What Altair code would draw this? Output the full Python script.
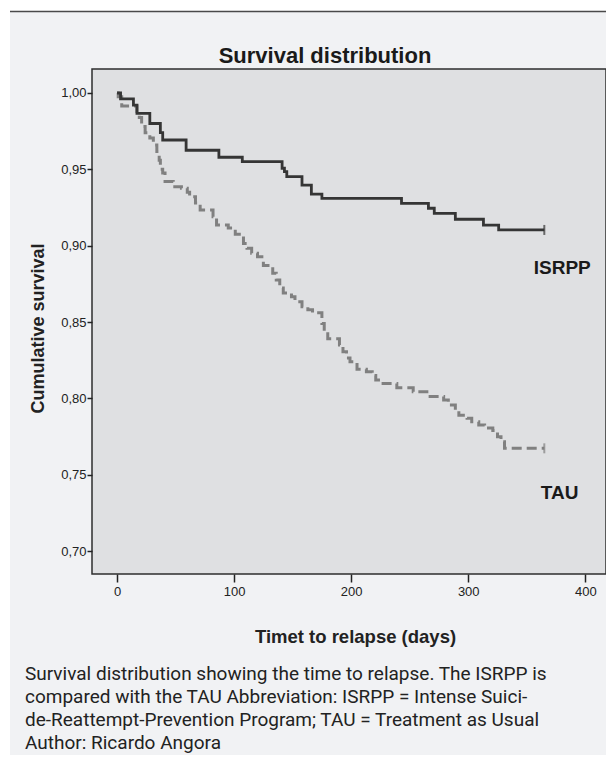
import altair as alt
import pandas as pd

# ---- data ----
isrpp_days = [0, 3, 14, 17, 28, 37, 39, 59, 87, 107, 141, 143, 145, 158, 166, 175, 243, 266, 271, 289, 313, 326, 365]
isrpp_surv = [1.0, 0.9962, 0.9921, 0.9867, 0.9800, 0.9740, 0.9692, 0.9625, 0.9579, 0.9550, 0.9507, 0.9485, 0.9452,
              0.9397, 0.9338, 0.9310, 0.9277, 0.9245, 0.9212, 0.9173, 0.9135, 0.9103, 0.9103]

tau_days = [0, 1, 4, 17, 19, 21, 24, 28, 31, 34, 36, 37, 39, 41, 48, 55, 60, 62, 67, 71, 82, 85, 95, 101, 108,
            111, 115, 120, 125, 133, 136, 139, 142, 149, 152, 158, 163, 167, 175, 177, 180, 190, 193, 196, 199,
            205, 213, 218, 221, 226, 239, 253, 266, 279, 283, 289, 292, 299, 303, 309, 314, 321, 325, 328, 331, 365]
tau_surv = [1.0, 0.9976, 0.9915, 0.9878, 0.9840, 0.9780, 0.9740, 0.9705, 0.9660, 0.9616, 0.9560, 0.9500, 0.9476,
            0.9420, 0.9386, 0.9376, 0.9350, 0.9320, 0.9280, 0.9234, 0.9190, 0.9135, 0.9116, 0.9075, 0.9015,
            0.8983, 0.8950, 0.8928, 0.8870, 0.8820, 0.8775, 0.8723, 0.8690, 0.8666, 0.8633, 0.8600, 0.8580,
            0.8560, 0.8490, 0.8437, 0.8390, 0.8350, 0.8305, 0.8264, 0.8240, 0.8190, 0.8175, 0.8150, 0.8120,
            0.8098, 0.8070, 0.8044, 0.8013, 0.7989, 0.7956, 0.7924, 0.7890, 0.7870, 0.7847, 0.7825, 0.7806,
            0.7790, 0.7749, 0.7716, 0.7673, 0.7673]

series_labels = ["ISRPP", "TAU"]
label_days = [356, 362]
label_surv = [0.8854, 0.7378]

x_ticks = [0, 100, 200, 300, 400]
y_ticks = [0.70, 0.75, 0.80, 0.85, 0.90, 0.95, 1.00]

chart_title = "Survival distribution"
x_title = "Timet to relapse (days)"
y_title = "Cumulative survival"
caption_lines = [
    "Survival distribution showing the time to relapse. The ISRPP is",
    "compared with the TAU Abbreviation: ISRPP = Intense Suici-",
    "de-Reattempt-Prevention Program; TAU = Treatment as Usual",
    "Author: Ricardo Angora",
]

# ---- layout ----
W, H = 514, 505
L, T, R, B = 84, 61, 0, 181
FONT = "Liberation Sans"
CAP_FONT = "Roboto"

isrpp = pd.DataFrame({"days": isrpp_days, "surv": isrpp_surv})
tau = pd.DataFrame({"days": tau_days, "surv": tau_surv})
ends = pd.DataFrame({"days": [isrpp_days[-1], tau_days[-1]], "surv": [isrpp_surv[-1], tau_surv[-1]],
                     "grp": series_labels})
labels = pd.DataFrame({"days": label_days, "surv": label_surv, "txt": series_labels})
one = pd.DataFrame({"a": [0]})

xs = alt.Scale(domain=[-21.4, 417.7], nice=False, zero=False)
ys = alt.Scale(domain=[0.685, 1.0157], nice=False, zero=False)

x_axis = alt.Axis(values=x_ticks, title=x_title, grid=False, domain=False, tickSize=8, tickWidth=1.5,
                  tickColor="#222", labelFont=FONT, labelFontSize=13, labelColor="#222", labelPadding=3,
                  titleFont=FONT, titleFontSize=18.5, titleFontWeight="bold", titleColor="#222",
                  titleBaseline="middle", titleY=62, titleX=263)
y_axis = alt.Axis(values=y_ticks, title=y_title, grid=False, domain=False, tickSize=5, tickWidth=1.5,
                  tickColor="#222", labelFont=FONT, labelFontSize=13, labelColor="#222", labelPadding=1,
                  labelExpr="replace(format(datum.value, '.2f'), '.', ',')",
                  titleFont=FONT, titleFontSize=18, titleFontWeight="bold", titleColor="#222",
                  titleAngle=270, titleBaseline="middle", titleAlign="center", titleX=-54, titleY=259)

tau_line = alt.Chart(tau).mark_line(interpolate="step-after", color="#808080", strokeWidth=3,
                                    strokeDash=[10, 5]).encode(
    x=alt.X("days:Q", scale=xs, axis=x_axis), y=alt.Y("surv:Q", scale=ys, axis=y_axis))
isrpp_line = alt.Chart(isrpp).mark_line(interpolate="step-after", color="#353535", strokeWidth=2.8).encode(
    x=alt.X("days:Q", scale=xs), y=alt.Y("surv:Q", scale=ys))
censor = alt.Chart(ends).mark_tick(orient="vertical", size=10, thickness=2).encode(
    x=alt.X("days:Q", scale=xs), y=alt.Y("surv:Q", scale=ys),
    color=alt.Color("grp:N", scale=alt.Scale(domain=series_labels, range=["#353535", "#808080"]), legend=None))
series_text = alt.Chart(labels).mark_text(align="left", baseline="middle", font=FONT, fontSize=19,
                                          fontWeight="bold", color="#1a1a1a").encode(
    x=alt.X("days:Q", scale=xs), y=alt.Y("surv:Q", scale=ys), text="txt:N")

# figure decorations (outside the plot)
white_top = alt.Chart(one).mark_rect(color="white").encode(
    x=alt.value(-L), x2=alt.value(W + R), y=alt.value(-T), y2=alt.value(-T + 3))
white_left = alt.Chart(one).mark_rect(color="white").encode(
    x=alt.value(-L), x2=alt.value(-L + 2), y=alt.value(-T), y2=alt.value(H + B))
top_rule = alt.Chart(one).mark_rule(color="#4a4a4a", strokeWidth=1.5).encode(
    x=alt.value(-L + 2), x2=alt.value(W + R), y=alt.value(-T + 3.5))
title_txt = alt.Chart(one).mark_text(align="center", baseline="middle", font=FONT, fontSize=22,
                                     fontWeight="bold", color="#1a1a1a").encode(
    x=alt.value(233), y=alt.value(-13), text=alt.value(chart_title))

cap_layers = []
cap_y = [605, 628, 651, 673.5]
for line, yy in zip(caption_lines, cap_y):
    cap_layers.append(alt.Chart(one).mark_text(align="left", baseline="middle", font=CAP_FONT, fontSize=19,
                                               color="#222").encode(
        x=alt.value(-67), y=alt.value(yy), text=alt.value(line)))

chart = alt.layer(tau_line, isrpp_line, censor, series_text, white_top, white_left, top_rule,
                  title_txt, *cap_layers).properties(
    width=W, height=H, autosize=alt.AutoSizeParams(type="none"),
    padding={"left": L, "top": T, "right": R, "bottom": B},
    background="#f1f2f4",
).configure_view(fill="#dfe0e2", stroke="#2e2e2e", strokeWidth=1.5)

chart.save("out.html", embed_options={"renderer": "svg", "actions": False})
